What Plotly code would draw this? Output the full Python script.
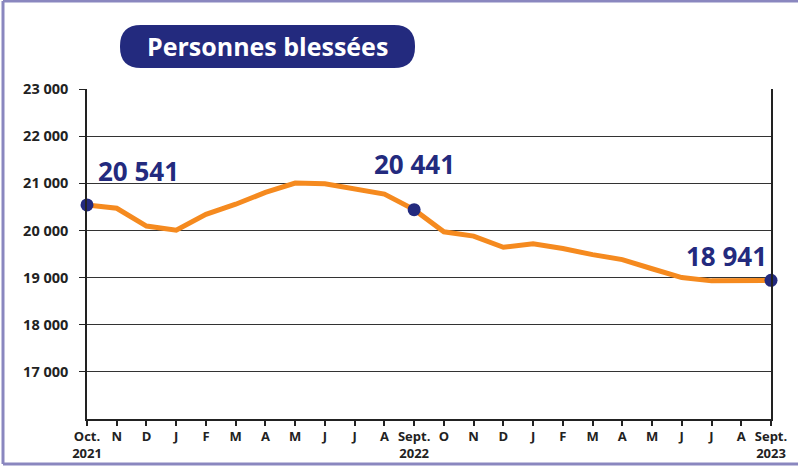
import plotly.graph_objects as go

months = ["Oct.<br>2021", "N", "D", "J", "F", "M", "A", "M", "J", "J", "A",
          "Sept.<br>2022", "O", "N", "D", "J", "F", "M", "A", "M", "J", "J", "A",
          "Sept.<br>2023"]
injured = [20541, 20470, 20092, 20006, 20342, 20556, 20806, 21005, 20990, 20892, 20770,
           20441, 19972, 19880, 19643, 19715, 19615, 19487, 19380, 19187, 19000, 18930, 18945,
           18941]
highlight_idx = [0, 11, 23]
y_ticks = [17000, 18000, 19000, 20000, 21000, 22000, 23000]
y_tick_text = ["17 000", "18 000", "19 000", "20 000", "21 000", "22 000", "23 000"]
title_text = "Personnes blessées"

W, H = 798, 468
L, R, T, B = 87, 27, 89, 49
PW, PH = W - L - R, H - T - B

def px(x):
    return (x - L) / PW

def py(y):
    return (H - B - y) / PH

NAVY = "#232a7e"
ORANGE = "#f58a1f"
FONT = "Open Sans"

xs = list(range(len(injured)))

fig = go.Figure()
fig.add_trace(go.Scatter(x=xs, y=injured, mode="lines",
                         line=dict(color=ORANGE, width=5), cliponaxis=False,
                         hoverinfo="skip", showlegend=False))
fig.add_trace(go.Scatter(x=[xs[i] for i in highlight_idx], y=[injured[i] for i in highlight_idx],
                         mode="markers", marker=dict(color=NAVY, size=13),
                         cliponaxis=False, showlegend=False))

def fmt(v):
    return f"{v:,}".replace(",", " ")

offsets = [(9, 34, "left"), (0, 46, "center"), (-2, 24, "right")]
for i, (dx, dy, anchor) in zip(highlight_idx, offsets):
    fig.add_annotation(x=xs[i], y=injured[i], xref="x", yref="y", text=fmt(injured[i]),
                       showarrow=False, xanchor=anchor, yanchor="middle", xshift=dx, yshift=dy,
                       font=dict(family=FONT, size=26, color=NAVY, weight="bold"))

# title pill
x0, x1, y0, y1, r = 120, 415, 25, 68, 21
path = (f"M {px(x0+r)},{py(y0)} L {px(x1-r)},{py(y0)} "
        f"Q {px(x1)},{py(y0)} {px(x1)},{py(y0+r)} L {px(x1)},{py(y1-r)} "
        f"Q {px(x1)},{py(y1)} {px(x1-r)},{py(y1)} L {px(x0+r)},{py(y1)} "
        f"Q {px(x0)},{py(y1)} {px(x0)},{py(y1-r)} L {px(x0)},{py(y0+r)} "
        f"Q {px(x0)},{py(y0)} {px(x0+r)},{py(y0)} Z")
shapes = [dict(type="path", xref="paper", yref="paper", path=path,
               fillcolor=NAVY, line=dict(width=0), layer="above")]
BORDER = "#8a87bf"
for (ax, ay, bx, by) in [(3, 1, 3, 464), (3, 1, 800, 1), (3, 464, 800, 464)]:
    shapes.append(dict(type="line", xref="paper", yref="paper",
                       x0=px(ax), y0=py(ay), x1=px(bx), y1=py(by),
                       line=dict(color=BORDER, width=3)))
fig.add_annotation(x=px((x0 + x1) / 2), y=py((y0 + y1) / 2), xref="paper", yref="paper",
                   text=title_text, showarrow=False, xanchor="center", yanchor="middle",
                   font=dict(family=FONT, size=25, color="white", weight="bold"))

fig.update_layout(
    width=W, height=H, margin=dict(l=L, r=R, t=T, b=B, autoexpand=False),
    paper_bgcolor="white", plot_bgcolor="white",
    shapes=shapes, showlegend=False,
    xaxis=dict(range=[0, len(injured) - 1], tickmode="array", tickvals=xs, ticktext=months,
               showgrid=False, zeroline=False, showline=True, linecolor="#222", linewidth=1.5,
               ticks="outside", ticklen=5, tickcolor="#222", tickwidth=1.5,
               mirror=False, automargin=False,
               tickfont=dict(family=FONT, size=13, color="#222", weight="bold")),
    yaxis=dict(range=[16000, 23000], tickmode="array", tickvals=y_ticks, ticktext=y_tick_text,
               showgrid=True, gridcolor="#333", gridwidth=1.2, zeroline=False,
               showline=True, linecolor="#222", linewidth=1.5, mirror=True,
               ticks="outside", ticklen=6, tickcolor="#222", tickwidth=1.2,
               ticklabelstandoff=8, automargin=False,
               tickfont=dict(family=FONT, size=14.5, color="#222", weight="bold")),
)
fig.write_html("out.html", config={"displayModeBar": False},
               post_script="document.body.style.margin='0';document.body.style.overflow='hidden';")
